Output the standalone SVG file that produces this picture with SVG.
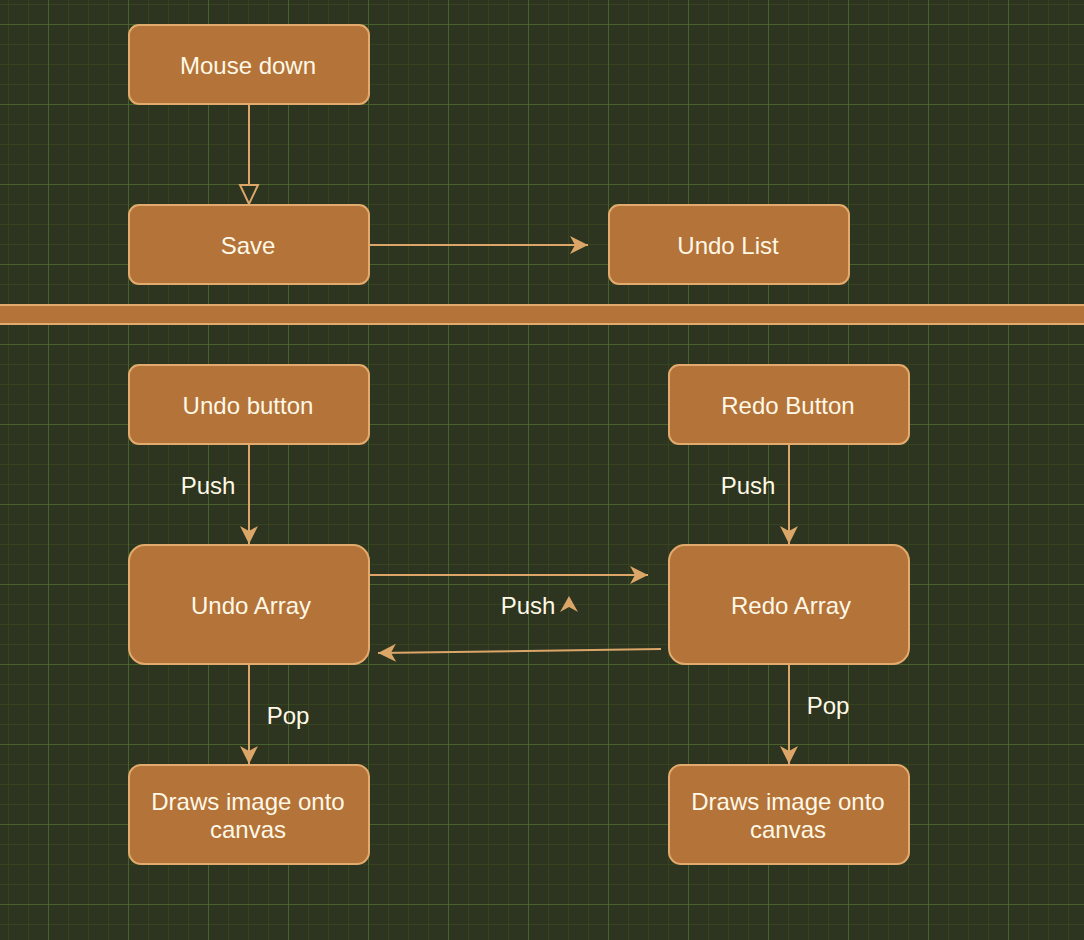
<svg xmlns="http://www.w3.org/2000/svg" width="1084" height="940" viewBox="0 0 1084 940">
<defs>
<pattern id="minor" x="8" y="4" width="20" height="20" patternUnits="userSpaceOnUse">
<path d="M0 0H20M0 0V20" fill="none" stroke="#37431f" stroke-width="2"/>
</pattern>
<pattern id="major" x="48" y="24" width="80" height="80" patternUnits="userSpaceOnUse">
<path d="M0 0H80M0 0V80" fill="none" stroke="#4e6a2e" stroke-width="1.5"/>
</pattern>
<marker id="arrow" markerUnits="userSpaceOnUse" markerWidth="20" markerHeight="20" refX="18" refY="9" orient="auto" viewBox="0 0 20 18">
<path d="M18 9 L0 0 L5 9 L0 18 Z" fill="#dca668"/>
</marker>
<marker id="hollow" markerUnits="userSpaceOnUse" markerWidth="24" markerHeight="24" refX="1" refY="10" orient="auto" viewBox="0 0 24 20">
<path d="M1 1 L20 10 L1 19 Z" fill="#2d3520" stroke="#dca668" stroke-width="2"/>
</marker>
</defs>
<style>
.node rect{fill:#b37339;stroke:#e3aa6d;stroke-width:2}
.node text,.lbl{fill:#fff8e6;font-family:"Liberation Sans",Arial,sans-serif;font-size:24px;text-anchor:middle}
.edge{fill:none;stroke:#dca668;stroke-width:2}
</style>
<rect width="1084" height="940" fill="#2d3520"/>
<rect width="1084" height="940" fill="url(#minor)"/>
<rect width="1084" height="940" fill="url(#major)"/>

<g id="separator"><rect x="-2" y="305" width="1090" height="19" fill="#b37339" stroke="#e3aa6d" stroke-width="2"/></g>

<g id="connectors">
<line class="edge" x1="249" y1="105" x2="249" y2="185" marker-end="url(#hollow)"/>
<line class="edge" x1="370" y1="245" x2="588" y2="245" marker-end="url(#arrow)"/>
<line class="edge" x1="249" y1="445" x2="249" y2="544" marker-end="url(#arrow)"/>
<line class="edge" x1="789" y1="445" x2="789" y2="544" marker-end="url(#arrow)"/>
<line class="edge" x1="370" y1="575" x2="648" y2="575" marker-end="url(#arrow)"/>
<line class="edge" x1="661" y1="649" x2="378" y2="653" marker-end="url(#arrow)"/>
<line class="edge" x1="249" y1="665" x2="249" y2="764" marker-end="url(#arrow)"/>
<line class="edge" x1="789" y1="665" x2="789" y2="764" marker-end="url(#arrow)"/>
<text class="lbl" x="208" y="494">Push</text>
<text class="lbl" x="748" y="494">Push</text>
<text class="lbl" x="528" y="614">Push</text>
<path d="M569 596 L578 612 L569 607 L560 612 Z" fill="#dca668"/>
<text class="lbl" x="288" y="724">Pop</text>
<text class="lbl" x="828" y="714">Pop</text>
</g>

<g id="mouse-down" class="node"><rect x="129" y="25" width="240" height="79" rx="10"/><text x="248" y="74">Mouse down</text></g>
<g id="save" class="node"><rect x="129" y="205" width="240" height="79" rx="10"/><text x="248" y="254">Save</text></g>
<g id="undo-list" class="node"><rect x="609" y="205" width="240" height="79" rx="10"/><text x="728" y="254">Undo List</text></g>
<g id="undo-button" class="node"><rect x="129" y="365" width="240" height="79" rx="10"/><text x="248" y="414">Undo button</text></g>
<g id="redo-button" class="node"><rect x="669" y="365" width="240" height="79" rx="10"/><text x="788" y="414">Redo Button</text></g>
<g id="undo-array" class="node"><rect x="129" y="545" width="240" height="119" rx="16"/><text x="251" y="614">Undo Array</text></g>
<g id="redo-array" class="node"><rect x="669" y="545" width="240" height="119" rx="16"/><text x="791" y="614">Redo Array</text></g>
<g id="draws-undo" class="node"><rect x="129" y="765" width="240" height="99" rx="12"/><text x="248" y="810">Draws image onto</text><text x="248" y="838">canvas</text></g>
<g id="draws-redo" class="node"><rect x="669" y="765" width="240" height="99" rx="12"/><text x="788" y="810">Draws image onto</text><text x="788" y="838">canvas</text></g>
</svg>
